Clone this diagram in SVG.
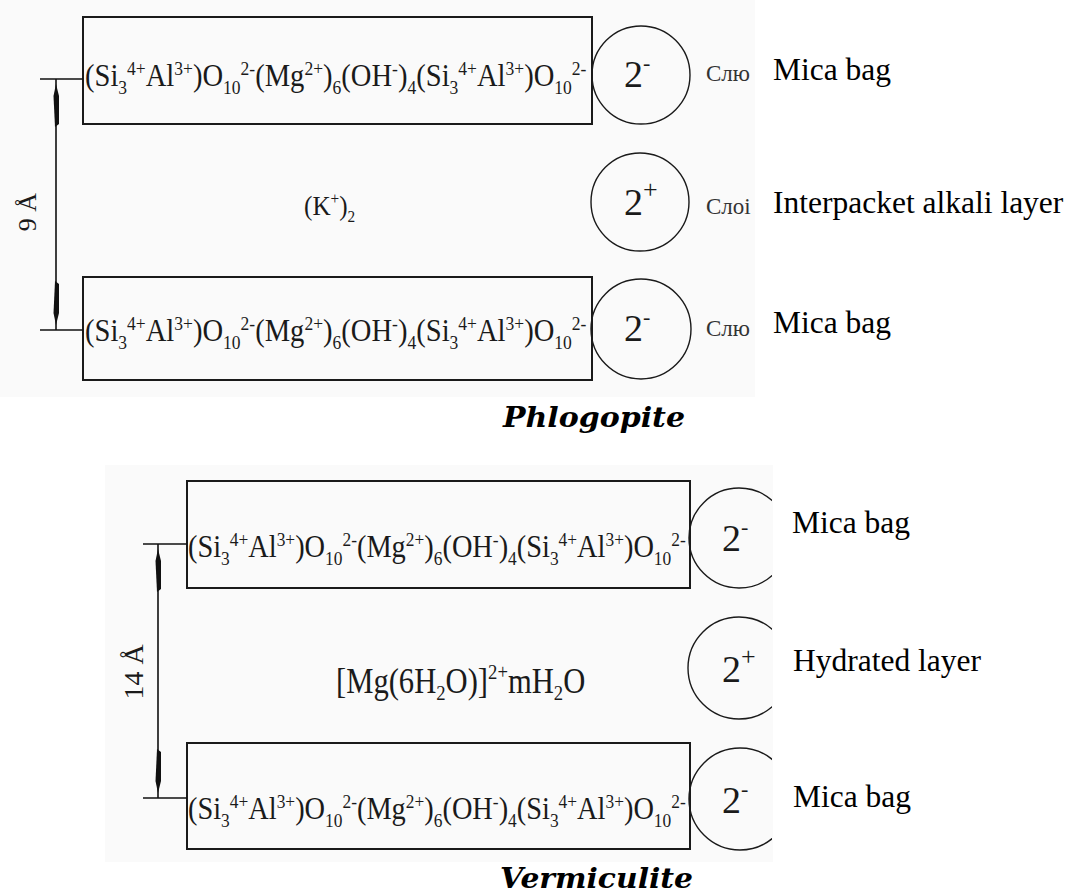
<svg xmlns="http://www.w3.org/2000/svg" width="1078" height="894" viewBox="0 0 1078 894">
  <style>
    .box { fill: none; stroke: #1a1a1a; stroke-width: 2; }
    .ion { fill: none; stroke: #1a1a1a; stroke-width: 1.4; }
    .dim { fill: none; stroke: #111; stroke-width: 1.6; }
    .head { fill: #111; stroke: none; }
    .f { font-family: "Liberation Serif", "Times New Roman", serif; fill: #1a1a1a; }
    .lbl { font-family: "Liberation Serif", "Times New Roman", serif; font-size: 31.5px; fill: #000; }
    .ru { font-family: "Liberation Serif", serif; font-size: 23px; fill: #333; }
    .title { font-family: "DejaVu Serif", serif; font-weight: bold; font-style: italic; font-size: 28px; fill: #000; }
    .chg { font-family: "Liberation Serif", serif; font-size: 38px; fill: #1a1a1a; }
  </style>
  <defs>
    <clipPath id="cutV">
      <rect x="0" y="460" width="772" height="410"/>
    </clipPath>
  </defs>

  <rect width="1078" height="894" fill="#fff"/>
  <!-- paper tone behind the two schematics -->
  <rect x="0" y="0" width="755" height="397" fill="#fafafa"/>
  <rect x="105" y="465" width="668" height="397" fill="#fafafa"/>

  <!-- ===== Phlogopite ===== -->
  <g id="phl-top">
    <rect class="box" x="83" y="17" width="509" height="107"/>
    <text class="f" font-size="31" transform="translate(85 86) scale(0.922 1)">(Si<tspan font-size="19" dy="8">3</tspan><tspan font-size="19" dy="-19">4+</tspan><tspan dy="11">Al</tspan><tspan font-size="19" dy="-11">3+</tspan><tspan dy="11">)O</tspan><tspan font-size="19" dy="8">10</tspan><tspan font-size="19" dy="-19">2-</tspan><tspan dy="11">(Mg</tspan><tspan font-size="19" dy="-11">2+</tspan><tspan dy="11">)</tspan><tspan font-size="19" dy="8">6</tspan><tspan dy="-8">(OH</tspan><tspan font-size="19" dy="-11">-</tspan><tspan dy="11">)</tspan><tspan font-size="19" dy="8">4</tspan><tspan dy="-8">(Si</tspan><tspan font-size="19" dy="8">3</tspan><tspan font-size="19" dy="-19">4+</tspan><tspan dy="11">Al</tspan><tspan font-size="19" dy="-11">3+</tspan><tspan dy="11">)O</tspan><tspan font-size="19" dy="8">10</tspan><tspan font-size="19" dy="-19">2-</tspan></text>
  </g>
  <g id="phl-top-ion">
    <circle class="ion" cx="641" cy="75" r="49"/>
    <text class="chg" x="624" y="87">2<tspan font-size="22" dy="-17">-</tspan></text>
  </g>
  <g id="phl-mid">
    <text class="f" font-size="28" transform="translate(304 215) scale(0.9 1)">(K<tspan font-size="17" dy="-11">+</tspan><tspan dy="11">)</tspan><tspan font-size="17" dy="7">2</tspan></text>
  </g>
  <g id="phl-mid-ion">
    <circle class="ion" cx="640" cy="202" r="49"/>
    <text class="chg" x="624" y="215">2<tspan font-size="26" dy="-17">+</tspan></text>
  </g>
  <g id="phl-bot">
    <rect class="box" x="83" y="277" width="509" height="103"/>
    <text class="f" font-size="31" transform="translate(85 341) scale(0.922 1)">(Si<tspan font-size="19" dy="8">3</tspan><tspan font-size="19" dy="-19">4+</tspan><tspan dy="11">Al</tspan><tspan font-size="19" dy="-11">3+</tspan><tspan dy="11">)O</tspan><tspan font-size="19" dy="8">10</tspan><tspan font-size="19" dy="-19">2-</tspan><tspan dy="11">(Mg</tspan><tspan font-size="19" dy="-11">2+</tspan><tspan dy="11">)</tspan><tspan font-size="19" dy="8">6</tspan><tspan dy="-8">(OH</tspan><tspan font-size="19" dy="-11">-</tspan><tspan dy="11">)</tspan><tspan font-size="19" dy="8">4</tspan><tspan dy="-8">(Si</tspan><tspan font-size="19" dy="8">3</tspan><tspan font-size="19" dy="-19">4+</tspan><tspan dy="11">Al</tspan><tspan font-size="19" dy="-11">3+</tspan><tspan dy="11">)O</tspan><tspan font-size="19" dy="8">10</tspan><tspan font-size="19" dy="-19">2-</tspan></text>
  </g>
  <g id="phl-bot-ion">
    <circle class="ion" cx="641" cy="329" r="50"/>
    <text class="chg" x="624" y="341">2<tspan font-size="22" dy="-17">-</tspan></text>
  </g>
  <g id="phl-labels">
    <text class="ru" x="706" y="81">Слю</text>
    <text class="ru" x="706" y="214">Слоі</text>
    <text class="ru" x="706" y="336">Слю</text>
    <text class="lbl" x="773" y="80">Mica bag</text>
    <text class="lbl" x="773" y="213">Interpacket alkali layer</text>
    <text class="lbl" x="773" y="333">Mica bag</text>
  </g>
  <g id="phl-spacing">
    <text class="f" font-size="26" transform="translate(36 212) rotate(-90)" text-anchor="middle">9 Å</text>
  </g>
  <text class="title" x="503" y="427" textLength="182" lengthAdjust="spacingAndGlyphs">Phlogopite</text>

  <!-- ===== Vermiculite ===== -->
  <g id="ver-top">
    <rect class="box" x="187" y="481" width="503" height="107"/>
    <text class="f" font-size="31" transform="translate(188 557) scale(0.915 1)">(Si<tspan font-size="19" dy="8">3</tspan><tspan font-size="19" dy="-19">4+</tspan><tspan dy="11">Al</tspan><tspan font-size="19" dy="-11">3+</tspan><tspan dy="11">)O</tspan><tspan font-size="19" dy="8">10</tspan><tspan font-size="19" dy="-19">2-</tspan><tspan dy="11">(Mg</tspan><tspan font-size="19" dy="-11">2+</tspan><tspan dy="11">)</tspan><tspan font-size="19" dy="8">6</tspan><tspan dy="-8">(OH</tspan><tspan font-size="19" dy="-11">-</tspan><tspan dy="11">)</tspan><tspan font-size="19" dy="8">4</tspan><tspan dy="-8">(Si</tspan><tspan font-size="19" dy="8">3</tspan><tspan font-size="19" dy="-19">4+</tspan><tspan dy="11">Al</tspan><tspan font-size="19" dy="-11">3+</tspan><tspan dy="11">)O</tspan><tspan font-size="19" dy="8">10</tspan><tspan font-size="19" dy="-19">2-</tspan></text>
  </g>
  <g id="ver-top-ion" clip-path="url(#cutV)">
    <circle class="ion" cx="739" cy="538" r="50"/>
    <text class="chg" x="722" y="551">2<tspan font-size="22" dy="-17">-</tspan></text>
  </g>
  <g id="ver-mid">
    <text class="f" font-size="36" transform="translate(336 693) scale(0.85 1)">[Mg(6H<tspan font-size="22" dy="7">2</tspan><tspan dy="-7">O)]</tspan><tspan font-size="22" dy="-14">2+</tspan><tspan dy="14">mH</tspan><tspan font-size="22" dy="7">2</tspan><tspan dy="-7">O</tspan></text>
  </g>
  <g id="ver-mid-ion" clip-path="url(#cutV)">
    <circle class="ion" cx="739" cy="668" r="51"/>
    <text class="chg" x="722" y="682">2<tspan font-size="26" dy="-17">+</tspan></text>
  </g>
  <g id="ver-bot">
    <rect class="box" x="187" y="743" width="503" height="106"/>
    <text class="f" font-size="31" transform="translate(188 819) scale(0.915 1)">(Si<tspan font-size="19" dy="8">3</tspan><tspan font-size="19" dy="-19">4+</tspan><tspan dy="11">Al</tspan><tspan font-size="19" dy="-11">3+</tspan><tspan dy="11">)O</tspan><tspan font-size="19" dy="8">10</tspan><tspan font-size="19" dy="-19">2-</tspan><tspan dy="11">(Mg</tspan><tspan font-size="19" dy="-11">2+</tspan><tspan dy="11">)</tspan><tspan font-size="19" dy="8">6</tspan><tspan dy="-8">(OH</tspan><tspan font-size="19" dy="-11">-</tspan><tspan dy="11">)</tspan><tspan font-size="19" dy="8">4</tspan><tspan dy="-8">(Si</tspan><tspan font-size="19" dy="8">3</tspan><tspan font-size="19" dy="-19">4+</tspan><tspan dy="11">Al</tspan><tspan font-size="19" dy="-11">3+</tspan><tspan dy="11">)O</tspan><tspan font-size="19" dy="8">10</tspan><tspan font-size="19" dy="-19">2-</tspan></text>
  </g>
  <g id="ver-bot-ion" clip-path="url(#cutV)">
    <circle class="ion" cx="740" cy="799" r="51"/>
    <text class="chg" x="722" y="813">2<tspan font-size="22" dy="-17">-</tspan></text>
  </g>
  <g id="ver-labels">
    <text class="lbl" x="792" y="533">Mica bag</text>
    <text class="lbl" x="793" y="671">Hydrated layer</text>
    <text class="lbl" x="793" y="807">Mica bag</text>
  </g>
  <g id="ver-spacing">
    <text class="f" font-size="28" transform="translate(143 672) rotate(-90)" text-anchor="middle">14 Å</text>
  </g>
  <text class="title" x="500" y="888" textLength="193" lengthAdjust="spacingAndGlyphs">Vermiculite</text>

  <!-- dimension lines with their ticks and heads -->
  <g id="connectors">
    <path class="dim" d="M40 79 H83 M56 79 V330 M40 330 H83"/>
    <path class="head" d="M56 84 L59 96 L59 124 L55 127 L53.5 96 Z"/>
    <path class="head" d="M56 325 L59 313 L59 284 L55 281 L53.5 313 Z"/>
    <path class="dim" d="M143 544 H187 M158 544 V798 M143 798 H187"/>
    <path class="head" d="M158 549 L161 561 L161 589 L157 592 L155.5 561 Z"/>
    <path class="head" d="M158 793 L161 781 L161 752 L157 749 L155.5 781 Z"/>
  </g>
</svg>
